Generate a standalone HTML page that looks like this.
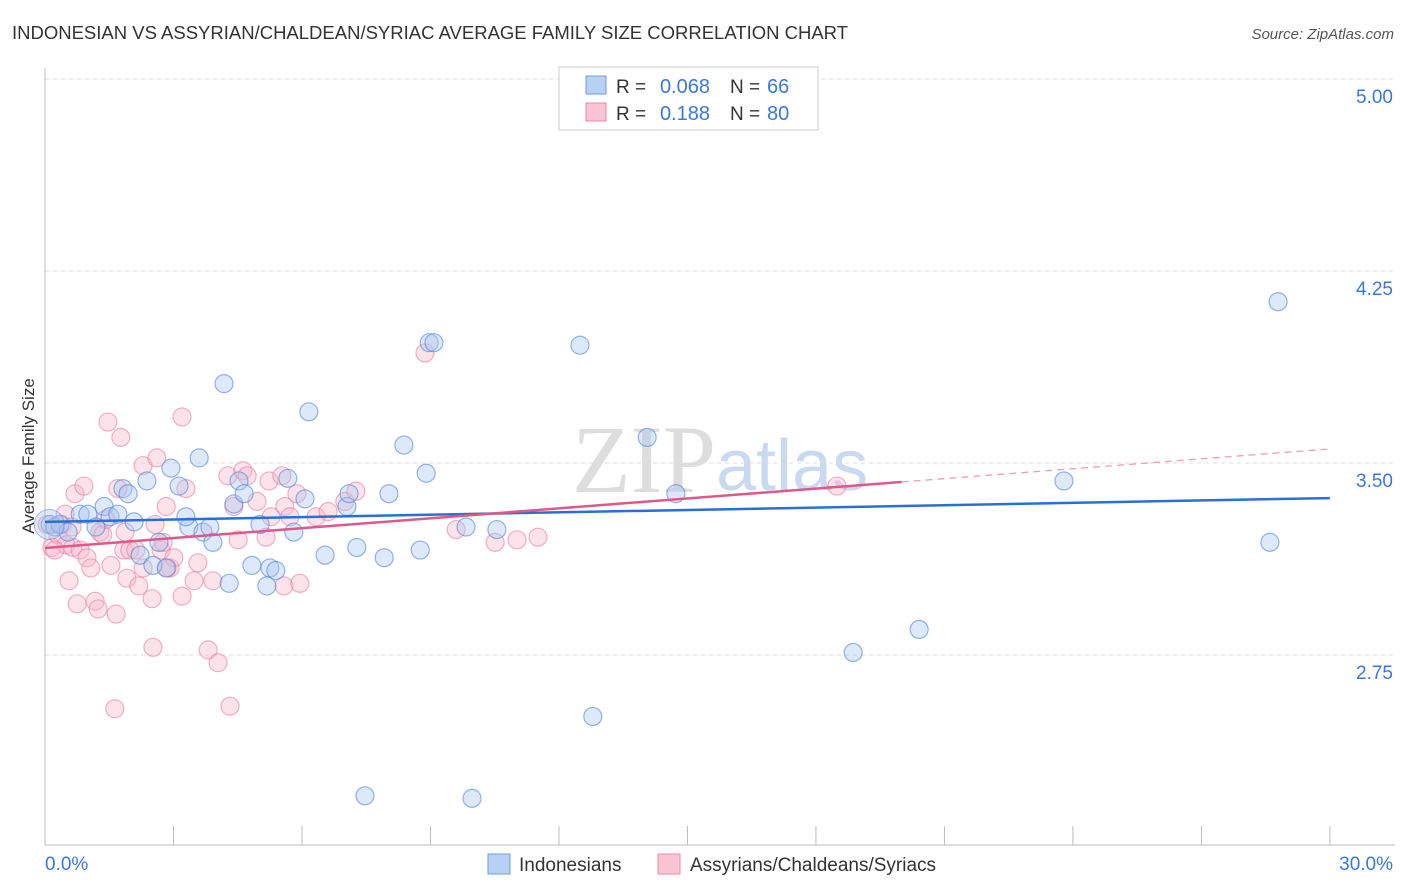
<!DOCTYPE html>
<html><head><meta charset="utf-8"><style>
body{margin:0;background:#fff;font-family:"Liberation Sans",sans-serif}
svg{display:block}
</style></head><body>
<svg id="chart" width="1406" height="892" xmlns="http://www.w3.org/2000/svg">
<text x="12" y="39" font-size="18.5" fill="#333" textLength="836" lengthAdjust="spacingAndGlyphs">INDONESIAN VS ASSYRIAN/CHALDEAN/SYRIAC AVERAGE FAMILY SIZE CORRELATION CHART</text>
<text x="1394" y="39" font-size="15" fill="#555" font-style="italic" text-anchor="end">Source: ZipAtlas.com</text>
<text x="716" y="492" font-size="96" fill="#ddd" font-family="Liberation Serif,serif" text-anchor="end">ZIP</text>
<text x="716" y="490" font-size="72" fill="#c9d9ef">atlas</text>
<g id="grid"></g>
<g id="axes"></g>
<g id="marks"></g>
<text transform="translate(34,456) rotate(-90)" font-size="17" fill="#333" text-anchor="middle">Average Family Size</text>
<g>
<rect x="559" y="67" width="259" height="63" fill="#fff" stroke="#ccc"/>
<rect x="586" y="76" width="20" height="18" fill="#b8d0f3" stroke="#6f9ee0"/>
<rect x="586" y="103" width="20" height="18" fill="#f9c4d4" stroke="#e98aa8"/>
<text x="616" y="93" font-size="19" fill="#333">R =</text>
<text x="710" y="93" font-size="20" fill="#3b78d8" text-anchor="end">0.068</text>
<text x="730" y="93" font-size="19" fill="#333">N =</text>
<text x="767" y="93" font-size="20" fill="#3b78d8">66</text>
<text x="616" y="120" font-size="19" fill="#333">R =</text>
<text x="710" y="120" font-size="20" fill="#3b78d8" text-anchor="end">0.188</text>
<text x="730" y="120" font-size="19" fill="#333">N =</text>
<text x="767" y="120" font-size="20" fill="#3b78d8">80</text>
</g>
<g>
<rect x="488" y="854" width="22" height="20" fill="#b8d0f3" stroke="#6f9ee0"/>
<text x="519" y="871" font-size="19" fill="#333">Indonesians</text>
<rect x="658" y="854" width="22" height="20" fill="#f9c4d4" stroke="#e98aa8"/>
<text x="690" y="871" font-size="19" fill="#333">Assyrians/Chaldeans/Syriacs</text>
</g>
</svg>
<script>
const yTicks=[5.00,4.25,3.50,2.75];
const xTickLabels=["0.0%","30.0%"];
const blueX=[0.12,0.23,0.35,0.54,0.82,1.00,1.19,1.38,1.52,1.70,1.82,1.94,2.08,2.38,2.22,2.52,2.66,2.83,2.94,3.13,3.36,3.29,3.60,3.69,3.85,3.92,4.18,4.30,4.41,4.53,4.65,4.83,5.02,5.18,5.25,5.39,5.67,5.81,6.07,6.16,6.54,7.05,7.10,7.28,7.92,8.03,8.38,8.76,8.90,8.97,9.08,9.83,10.55,12.49,12.79,14.06,14.73,18.87,20.41,23.79,28.60,28.79,7.47,9.97];
const blueY=[3.26,3.25,3.26,3.23,3.30,3.30,3.25,3.33,3.29,3.30,3.40,3.38,3.27,3.43,3.14,3.10,3.19,3.09,3.48,3.41,3.25,3.29,3.52,3.23,3.25,3.19,3.81,3.03,3.34,3.43,3.38,3.10,3.26,3.02,3.09,3.08,3.44,3.23,3.36,3.70,3.14,3.33,3.38,3.17,3.13,3.38,3.57,3.16,3.46,3.97,3.97,3.25,3.24,3.96,2.51,3.60,3.38,2.76,2.85,3.43,3.19,4.13,2.20,2.19];
const pinkX=[0.05,0.16,0.30,0.40,0.49,0.56,0.65,0.75,0.70,0.82,0.91,0.98,1.07,1.17,1.24,1.28,1.35,1.42,1.47,1.54,1.66,1.63,1.70,1.77,1.84,1.91,1.98,2.12,2.19,2.29,2.61,2.50,2.52,2.57,2.71,2.76,2.83,2.92,3.01,3.20,3.20,3.29,3.48,3.57,3.81,3.92,4.04,4.27,4.32,4.41,4.51,4.62,4.72,4.95,5.16,5.23,5.28,5.53,5.58,5.60,5.72,5.88,5.95,6.33,6.61,7.00,7.26,8.87,9.60,10.51,11.02,11.51,18.49,0.23,0.47,0.63,2.29,2.85,1.87];
const pinkY=[3.26,3.17,3.22,3.26,3.18,3.04,3.17,2.95,3.38,3.16,3.41,3.13,3.09,2.96,2.93,3.23,3.22,3.28,3.66,3.10,2.91,2.54,3.40,3.60,3.16,3.05,3.16,3.16,3.02,3.49,3.52,2.97,2.78,3.26,3.16,3.19,3.33,3.09,3.13,3.68,2.98,3.40,3.04,3.11,2.77,3.04,2.72,3.45,2.55,3.33,3.20,3.47,3.45,3.35,3.21,3.43,3.29,3.45,3.02,3.33,3.29,3.38,3.03,3.29,3.31,3.35,3.39,3.93,3.24,3.19,3.20,3.21,3.41,3.16,3.30,3.25,3.09,3.09,3.23];
const blueTrend=[3.270,3.363];
const pinkTrend=[3.168,3.555];
const pinkSolidEnd=20;
const NS="http://www.w3.org/2000/svg";
const X=v=>45+v*42.83, Y=v=>79+(5-v)*256;
function mk(t,a,p){const e=document.createElementNS(NS,t);for(const k in a)e.setAttribute(k,a[k]);p.appendChild(e);return e;}
const grid=document.getElementById('grid'),axes=document.getElementById('axes'),marks=document.getElementById('marks');
yTicks.forEach(v=>{
 const l=mk('line',{x1:45,x2:1395,y1:Y(v),y2:Y(v),stroke:'#ddd','stroke-dasharray':'4,4'},grid);
 
 
 const t=mk('text',{x:1393,y:Y(v)+24,'font-size':19,fill:'#3b78d8','text-anchor':'end'},axes);
 t.textContent=v.toFixed(2);
 
 
});
const ax=mk('line',{x1:45,x2:45,y1:68,y2:845,stroke:'#bbb'},axes);


const bx=mk('line',{x1:45,x2:1395,y1:845,y2:845,stroke:'#bbb'},axes);


for(let i=0;i<=10;i++){const tk=mk('line',{x1:X(i*3),x2:X(i*3),y1:826,y2:845,stroke:'#bbb'},axes);
 
 }
xTickLabels.forEach((s,i)=>{const t=mk('text',{x:i?1393:45,y:870,'font-size':19,fill:'#3b78d8','text-anchor':i?'end':'start'},axes);t.textContent=s;
 
 });
function pts(xs,ys,fill,stroke,name){xs.forEach((x,i)=>{const c=mk('circle',{cx:X(x),cy:Y(ys[i]),r:9,fill:fill,'fill-opacity':0.4,stroke:stroke,'stroke-opacity':0.6,'stroke-width':1.2},marks);
 
 });}
pts(pinkX,pinkY,'#f7b8cb','#e8819f','assyrian-point');
pts(blueX,blueY,'#a9c6f0','#4f86d8','indonesian-point');
const big=mk('circle',{cx:X(0.1),cy:Y(3.26),r:15,fill:'#a9c6f0','fill-opacity':0.4,stroke:'#4f86d8','stroke-opacity':0.5},marks);


const bl=mk('line',{x1:X(0),y1:Y(blueTrend[0]),x2:X(30),y2:Y(blueTrend[1]),stroke:'#2a6fd6','stroke-width':2.5},marks);


const pm=pinkTrend[0]+(pinkTrend[1]-pinkTrend[0])*pinkSolidEnd/30;
const pl=mk('line',{x1:X(0),y1:Y(pinkTrend[0]),x2:X(pinkSolidEnd),y2:Y(pm),stroke:'#e0588a','stroke-width':2.5},marks);


const pd=mk('line',{x1:X(pinkSolidEnd),y1:Y(pm),x2:X(30),y2:Y(pinkTrend[1]),stroke:'#e7a0b8','stroke-width':1.3,'stroke-dasharray':'7,5'},marks);


</script>
</body></html>
